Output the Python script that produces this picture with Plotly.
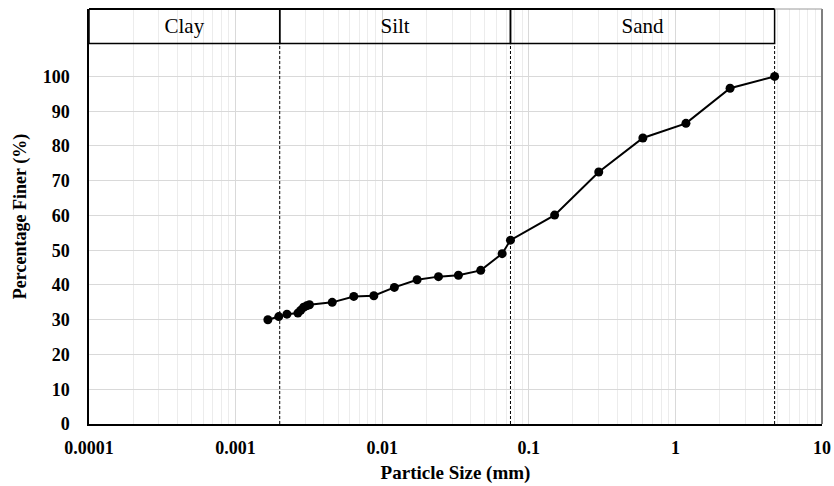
import plotly.graph_objects as go

# Data: particle size (mm) vs percentage finer (%)
particle_size = [0.00166, 0.00197, 0.00224, 0.00266, 0.00278, 0.00291, 0.00305, 0.00319,
                 0.00456, 0.0064, 0.00877, 0.0121, 0.0173, 0.0242, 0.0331, 0.047,
                 0.0658, 0.075, 0.15, 0.3, 0.6, 1.18, 2.36, 4.75]
percent_finer = [30.0, 30.9, 31.6, 31.9, 32.7, 33.6, 34.0, 34.3,
                 35.0, 36.7, 36.9, 39.3, 41.5, 42.4, 42.8, 44.2,
                 49.0, 52.9, 60.1, 72.5, 82.3, 86.5, 96.6, 100.0]

# Soil class boundaries (mm) and labels
boundaries = [0.0001, 0.002, 0.075, 4.75]
classes = ["Clay", "Silt", "Sand"]

x_ticks = [0.0001, 0.001, 0.01, 0.1, 1, 10]
x_ticktext = ["0.0001", "0.001", "0.01", "0.1", "1", "10"]
y_ticks = list(range(0, 101, 10))

Y_TOP = 119.4
HEADER_BOTTOM = 109.5
LABEL_Y = 113.9

serif = "Liberation Serif"

fig = go.Figure()

fig.add_trace(go.Scatter(
    x=particle_size, y=percent_finer, mode="lines+markers",
    line=dict(color="black", width=2),
    marker=dict(color="black", size=9),
    showlegend=False, hoverinfo="x+y",
))

shapes = []
# dashed boundary lines
for b in boundaries[1:]:
    shapes.append(dict(type="line", xref="x", yref="y", x0=b, x1=b, y0=0, y1=HEADER_BOTTOM,
                       line=dict(color="black", width=1, dash="3px,2px")))
# header boxes
for i in range(len(classes)):
    shapes.append(dict(type="rect", xref="x", yref="y", x0=boundaries[i], x1=boundaries[i + 1],
                       y0=HEADER_BOTTOM, y1=Y_TOP, line=dict(color="black", width=1.5),
                       fillcolor="rgba(0,0,0,0)"))
# gray outer border (top right and right)
shapes.append(dict(type="line", xref="paper", yref="paper", x0=1, x1=1, y0=0, y1=1,
                   line=dict(color="#7f7f7f", width=2)))
shapes.append(dict(type="line", xref="x", yref="paper", x0=boundaries[-1], x1=10, y0=1, y1=1,
                   line=dict(color="#9a9a9a", width=1)))
# thicker top line for header
shapes.append(dict(type="line", xref="x", yref="paper", x0=boundaries[0], x1=boundaries[-1], y0=1, y1=1,
                   line=dict(color="black", width=2)))

fig.add_trace(go.Scatter(
    x=[(boundaries[i] * boundaries[i + 1]) ** 0.5 for i in range(len(classes))],
    y=[LABEL_Y] * len(classes),
    mode="text", text=classes, textposition="middle center",
    textfont=dict(family=serif, size=21, color="black"),
    showlegend=False, hoverinfo="skip", cliponaxis=False,
))

fig.update_layout(
    width=834, height=486,
    margin=dict(l=89, r=12, t=9, b=62, autoexpand=False),
    paper_bgcolor="white", plot_bgcolor="white",
    shapes=shapes,
    xaxis=dict(
        type="log", range=[-4, 1],
        tickvals=x_ticks, ticktext=x_ticktext,
        tickfont=dict(family=serif, size=18, color="black", weight="bold"),
        showgrid=True, gridcolor="#d9d9d9", gridwidth=1,
        minor=dict(showgrid=True, gridcolor="#ececec", gridwidth=1, dtick="D1"),
        showline=True, linecolor="black", linewidth=1.5,
        ticks="outside", ticklen=7, tickcolor="rgba(0,0,0,0)",
        title=dict(text="Particle Size (mm)", font=dict(family=serif, size=19, color="black", weight="bold"),
                   standoff=8),
        zeroline=False, automargin=False,
    ),
    yaxis=dict(
        range=[0, Y_TOP],
        tickvals=y_ticks,
        tickfont=dict(family=serif, size=18, color="black", weight="bold"),
        showgrid=True, gridcolor="#d9d9d9", gridwidth=1,
        showline=True, linecolor="black", linewidth=1.5,
        ticks="outside", ticklen=14, tickcolor="rgba(0,0,0,0)",
        title=dict(text="Percentage Finer (%)", font=dict(family=serif, size=18, color="black", weight="bold"),
                   standoff=11),
        zeroline=False, automargin=False,
    ),
)

fig.write_html("out.html")
